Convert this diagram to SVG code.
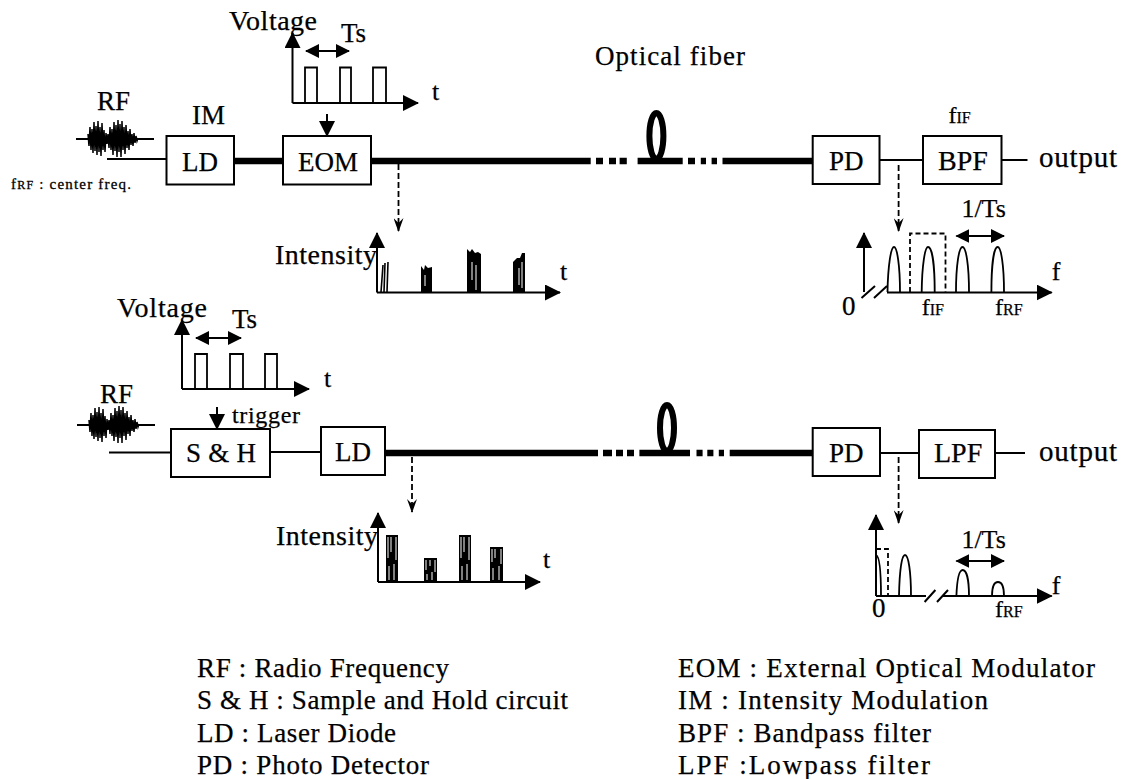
<svg xmlns="http://www.w3.org/2000/svg" width="1127" height="779" viewBox="0 0 1127 779">
<style>
text{font-family:"Liberation Serif","Times New Roman",serif;fill:#000;font-size:27px;stroke:#000;stroke-width:.25}
.box{fill:#fff;stroke:#000;stroke-width:2}
.thin{fill:none;stroke:#000;stroke-width:2}
.fib{fill:none;stroke:#000;stroke-width:6.5}
.dash{fill:none;stroke:#000;stroke-width:1.8;stroke-dasharray:6 3}
.pulse{fill:none;stroke:#000;stroke-width:1.8}
.sub{font-size:16px}
.f{font-size:24px}
.leg{font-size:27px}
.wave{fill:none;stroke:#000;stroke-width:1.5}
.streak{fill:none;stroke:#fff;stroke-width:1}
</style>
<defs>
<marker id="ah" markerUnits="userSpaceOnUse" markerWidth="16" markerHeight="16" refX="15" refY="8" orient="auto-start-reverse"><path d="M0 0L16 8L0 16Z" fill="#000"/></marker>
<marker id="ad" markerUnits="userSpaceOnUse" markerWidth="14" markerHeight="14" refX="13" refY="7" orient="auto-start-reverse"><path d="M0 0L14 7L0 14Z" fill="#000"/></marker>
<marker id="ao" markerUnits="userSpaceOnUse" markerWidth="14" markerHeight="10" refX="13" refY="5" orient="auto"><path d="M0 0L14 5L0 10L5 5Z" fill="#000"/></marker>
<g id="rfwave">
<path class="thin" d="M76 139H154"/>
<path class="wave" d="M88 134L89 146L90 127L91 150L92 129L93 153L94 122L95 151L96 126L97 155L98 121L99 152L100 127L101 156L102 123L103 150L104 130L105 152L106 133L107 144L108 134L109 148L110 127L111 150L112 129L113 155L114 122L115 151L116 125L117 157L118 120L119 152L120 124L121 157L122 121L123 150L124 127L125 154L126 125L127 148L128 131L129 150L130 129L131 145L132 134L133 146L134 133L135 143L136 136L137 141L138 138"/>
</g>
</defs>

<g id="connectors">
<path class="thin" d="M107 159H166"/>
<path class="fib" d="M234 161H283"/>
<path class="fib" d="M371 161H590.7M596 161H603M609 161H616M619.6 161H626.8M637.6 161H682.7M688 161H695M700.8 161H706M711.6 161H717M722.5 161H812.7"/>
<path class="thin" d="M879.5 160H923M1001.5 160H1027.5"/>
<path class="thin" d="M327 114V136" marker-end="url(#ah)"/>
<path class="dash" d="M398.5 164V231" marker-end="url(#ao)"/>
<path class="dash" d="M898.6 165V231" marker-end="url(#ao)"/>
<path class="thin" d="M109 452.5H171M270 452H321"/>
<path class="fib" d="M385 453H598M603 453H612M616 453H623M627 453H634M639.4 453H690M696.5 453H702.6M707.3 453H713.4M718.8 453H724M729.7 453H812.7"/>
<path class="thin" d="M880 453H919M995 453H1025"/>
<path class="thin" d="M217 407V429" marker-end="url(#ah)"/>
<path class="dash" d="M412 457V512" marker-end="url(#ao)"/>
<path class="dash" d="M898.6 457V523" marker-end="url(#ao)"/>
</g>

<g id="fiber-loop-top"><ellipse cx="656.4" cy="136" rx="7" ry="23" fill="none" stroke="#000" stroke-width="6"/></g>
<g id="fiber-loop-bottom"><ellipse cx="667" cy="428" rx="7" ry="23" fill="none" stroke="#000" stroke-width="6"/></g>
<text x="595" y="65" textLength="150">Optical fiber</text>

<g id="rf-top"><text x="97" y="110" font-size="28">RF</text><use href="#rfwave"/><text x="11" y="189" textLength="120" style="font-size:15px;stroke-width:.3">f<tspan font-size="12">RF</tspan> : center freq.</text></g>
<g id="im"><text x="192" y="124">IM</text></g>
<g id="ld-top"><rect class="box" x="166.5" y="136" width="67.5" height="48.5"/><text x="182" y="171">LD</text></g>
<g id="eom"><rect class="box" x="283" y="136" width="88" height="48.5"/><text x="298" y="171">EOM</text></g>
<g id="pd-top"><rect class="box" x="812.7" y="136" width="66.8" height="48"/><text x="829" y="170">PD</text></g>
<g id="bpf"><rect class="box" x="923" y="136" width="78.5" height="48"/><text x="938" y="170" style="font-size:28px">BPF</text><text class="f" x="948.5" y="123">f<tspan class="sub">IF</tspan></text></g>
<g id="output-top"><text x="1039" y="167" textLength="78" style="font-size:29px">output</text></g>

<g id="voltage-top">
<text x="229" y="30" textLength="88" style="font-size:28px">Voltage</text><text x="341" y="42">Ts</text><text x="432" y="100" style="font-size:26px">t</text>
<path class="thin" d="M292.5 103V33" marker-end="url(#ah)"/>
<path class="thin" d="M292.5 103H418" marker-end="url(#ah)"/>
<path class="pulse" d="M305 103V67.5H317V103M340 103V67.5H351V103M373 103V67.5H386V103"/>
<path class="thin" d="M306 51H349" marker-start="url(#ad)" marker-end="url(#ad)"/>
</g>

<g id="intensity-top">
<text x="275" y="264" textLength="102" style="font-size:28px">Intensity</text><text x="560" y="280" style="font-size:26px">t</text>
<path class="thin" d="M377 292.5V233" marker-end="url(#ah)"/>
<path class="thin" d="M377 292.5H560" marker-end="url(#ah)"/>
<path fill="none" stroke="#000" stroke-width="1.6" d="M381 292L383 265M384 292L385 263M387 292L388 262"/>
<path fill="#000" d="M421 292V266L424 270L425 265L428 268L432 267V292ZM467 292V249L470 252L472 249L475 253L478 252L481 254V292ZM513 292V262L517 258L520 258L522 253L525 253V292Z"/>
<path class="streak" d="M425 275V286M472 262V280M476 265V290M519 268V285M522 262V288"/>
</g>

<g id="spectrum-top">
<text x="961.4" y="217" style="font-size:26px">1/Ts</text><text x="1051.7" y="280" style="font-size:26px">f</text><text x="842" y="315">0</text>
<text class="f" x="921.7" y="315">f<tspan class="sub">IF</tspan></text><text class="f" x="995" y="315">f<tspan class="sub">RF</tspan></text>
<path class="thin" d="M864 292V233" marker-end="url(#ah)"/>
<path class="thin" d="M887 292.5H1051.7" marker-end="url(#ah)"/>
<path class="thin" d="M861.5 298L875 286M874 298L887 286"/>
<path class="pulse" d="M887.5 292C888 265 891 247 894 247C897 247 900 265 900 292M921.7 292C922 265 925 247 928 247C932 247 934.7 265 934.7 292M956 292C956 265 959 247 962.5 247C966 247 969 265 969 292M991.4 292C991.4 265 994 247 997.7 247C1001 247 1004 265 1004 292"/>
<path class="dash" d="M910 292V233.5H945.5V292" style="stroke-dasharray:5 3"/>
<path class="thin" d="M956.4 236H1004" marker-start="url(#ad)" marker-end="url(#ad)"/>
</g>

<g id="rf-bottom"><text x="100" y="403" font-size="28">RF</text><use href="#rfwave" transform="translate(1 286)"/></g>
<g id="sh"><rect class="box" x="171" y="429" width="99" height="48"/><text x="186" y="462" textLength="70">S &amp; H</text><text x="232" y="423" textLength="68" style="font-size:24px">trigger</text></g>
<g id="ld-bottom"><rect class="box" x="321" y="427" width="64" height="48"/><text x="335" y="461">LD</text></g>
<g id="pd-bottom"><rect class="box" x="812.7" y="428" width="67.3" height="48"/><text x="829" y="462">PD</text></g>
<g id="lpf"><rect class="box" x="919" y="430" width="76" height="48"/><text x="934" y="462" style="font-size:28px">LPF</text></g>
<g id="output-bottom"><text x="1039" y="461" textLength="78" style="font-size:29px">output</text></g>

<g id="voltage-bottom">
<text x="117" y="317" textLength="90" style="font-size:28px">Voltage</text><text x="232" y="328">Ts</text><text x="324" y="387" style="font-size:26px">t</text>
<path class="thin" d="M182 389V320" marker-end="url(#ah)"/>
<path class="thin" d="M182 389H309" marker-end="url(#ah)"/>
<path class="pulse" d="M195 389V354H207V389M230 389V354H243V389M265 389V354H277V389"/>
<path class="thin" d="M196 338H241" marker-start="url(#ad)" marker-end="url(#ad)"/>
</g>

<g id="intensity-bottom">
<text x="276" y="545" textLength="102" style="font-size:28px">Intensity</text><text x="543" y="568" style="font-size:26px">t</text>
<path class="thin" d="M378 582V513" marker-end="url(#ah)"/>
<path class="thin" d="M378 582H540" marker-end="url(#ah)"/>
<path fill="#000" d="M386 535H398V582H386ZM424 558H437V582H424ZM459 535H471V582H459ZM490 547H503V582H490Z"/>
<path class="streak" d="M388 537V558M391 537V552M396 537V560M389 566V580M394 564V580M426 560V570M430 560V566M435 560V572M427 574V580M432 572V580M461 537V558M464 537V552M469 537V560M462 566V580M467 564V580M492 549V562M495 549V558M501 549V564M493 568V580M499 566V580"/>
</g>

<g id="spectrum-bottom">
<text x="961.4" y="548" style="font-size:26px">1/Ts</text><text x="1051.7" y="594" style="font-size:26px">f</text><text x="872" y="617">0</text>
<text class="f" x="995" y="617">f<tspan class="sub">RF</tspan></text>
<path class="thin" d="M876 596V515" marker-end="url(#ah)"/>
<path class="thin" d="M876 596H926M943 596H1051.7" marker-end="url(#ah)"/>
<path class="thin" d="M924.6 602L935.4 590M937 602L948 590"/>
<path class="pulse" d="M876 555C879 556 881 570 881 596M899 596C899.5 572 901.5 555 905 555C908.5 555 911 572 911 596M956.4 596C957 580 959 570 962.7 570C966.5 570 969 580 969 596M992 596C992 588 994 582 998 582C1002 582 1004 588 1004 596"/>
<path class="dash" d="M876 549H888V596" style="stroke-dasharray:5 3"/>
<path class="thin" d="M956.4 561H1004" marker-start="url(#ad)" marker-end="url(#ad)"/>
</g>

<g id="legend">
<text class="leg" x="197" y="677" textLength="252">RF : Radio Frequency</text>
<text class="leg" x="197" y="709" textLength="371">S &amp; H : Sample and Hold circuit</text>
<text class="leg" x="197" y="742" textLength="199">LD : Laser Diode</text>
<text class="leg" x="197" y="774" textLength="232">PD : Photo Detector</text>
<text class="leg" x="678" y="677" textLength="417">EOM : External Optical Modulator</text>
<text class="leg" x="678" y="709" textLength="310">IM : Intensity Modulation</text>
<text class="leg" x="678" y="742" textLength="253">BPF : Bandpass filter</text>
<text class="leg" x="678" y="774" textLength="252">LPF :Lowpass   filter</text>
</g>
</svg>
